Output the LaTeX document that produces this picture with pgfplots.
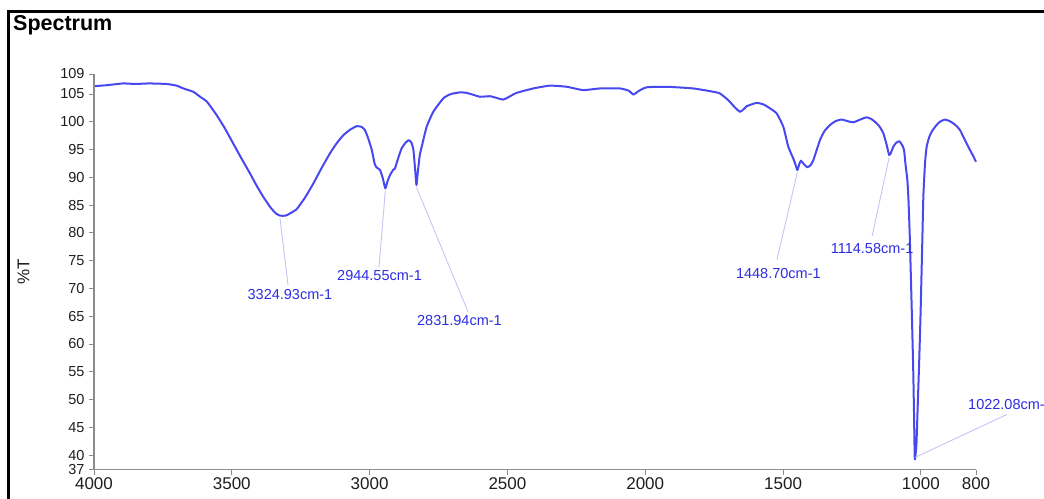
\documentclass[border=0pt]{standalone}
\usepackage{fontspec}
\setmainfont{Liberation Sans}
\usepackage{pgfplots}
\pgfplotsset{compat=1.18}
\definecolor{specblue}{RGB}{72,72,240}
\definecolor{anncol}{RGB}{45,45,225}
\definecolor{leader}{RGB}{196,196,246}
\definecolor{axgray}{RGB}{140,140,140}
\definecolor{ticktext}{RGB}{30,30,30}

\pgfplotstableread{
wn T
4000 106.4
3950 106.6
3894 106.9
3850 106.8
3800 106.9
3736 106.8
3700 106.5
3676 106.0
3640 105.4
3615 104.5
3590 103.6
3555 101.2
3525 98.8
3495 96.1
3465 93.4
3434 90.7
3410 88.5
3386 86.5
3360 84.6
3340 83.5
3325 83.1
3305 83.1
3285 83.6
3264 84.3
3235 86.3
3204 88.9
3175 91.6
3144 94.3
3120 96.1
3095 97.6
3070 98.6
3047 99.2
3030 99.1
3017 98.5
3005 97.0
2992 94.9
2982 92.5
2975 91.8
2962 91.3
2952 89.8
2943 88.0
2935 89.3
2926 90.4
2915 91.3
2908 91.6
2896 93.5
2884 95.2
2870 96.2
2858 96.7
2848 96.2
2841 94.9
2835 91.5
2830 88.6
2825 91.0
2818 94.0
2811 95.5
2793 99.1
2769 101.8
2733 104.2
2710 104.9
2696 105.1
2670 105.3
2648 105.2
2620 104.8
2600 104.5
2563 104.6
2540 104.3
2515 104.0
2490 104.6
2467 105.2
2406 106.0
2346 106.5
2285 106.3
2225 105.7
2164 106.0
2092 106.0
2060 105.6
2043 104.9
2025 105.5
1995 106.2
1922 106.3
1826 106.0
1753 105.4
1729 105.1
1699 103.9
1675 102.6
1656 101.8
1640 102.4
1632 102.8
1596 103.4
1570 103.1
1547 102.4
1523 101.5
1499 99.1
1481 95.5
1463 93.4
1455 92.3
1448 91.3
1441 92.4
1435 93.0
1425 92.4
1412 91.8
1400 92.2
1390 93.1
1366 96.7
1350 98.3
1330 99.4
1310 100.1
1288 100.4
1265 100.1
1245 99.9
1220 100.4
1197 100.8
1180 100.5
1160 99.7
1148 99.0
1136 97.9
1125 96.0
1115 94.0
1108 94.5
1100 95.5
1090 96.2
1078 96.5
1068 95.8
1061 94.9
1055 92.0
1049 89.5
1045 86.0
1040 79.0
1033 66.0
1028 56.0
1025 48.0
1022 39.3
1016 42.0
1012 48.0
1006 57.0
1001 65.6
995 78.0
991 86.5
985 92.5
979 95.5
970 97.2
961 98.2
945 99.3
931 100.0
912 100.4
895 100.1
882 99.7
870 99.2
858 98.5
843 97.0
828 95.5
812 94.0
800 92.8
}\spectrum

\begin{document}
\begin{tikzpicture}
\begin{axis}[
  at={(0pt,0pt)}, anchor=south west,
  scale only axis, width=882pt, height=395.5pt,
  xmin=800, xmax=4000, x dir=reverse,
  ymin=37.4, ymax=108.6,
  clip=false,
  axis line style={draw=none},
  tick align=outside,
  major tick length=5pt,
  every tick/.style={draw=axgray, line width=0.9pt},
  xtick pos=bottom, ytick pos=left,
  xtick={4000,3500,3000,2500,2000,1500,1000,800},
  xticklabels={4000,3500,3000,2500,2000,1500,1000,800},
  ytick={37.4,40,45,50,55,60,65,70,75,80,85,90,95,100,105,108.6},
  yticklabels={37,40,45,50,55,60,65,70,75,80,85,90,95,100,105,109},
  xticklabel style={font=\fontsize{17}{17}\selectfont, text=ticktext},
  yticklabel style={font=\fontsize{14.5}{14.5}\selectfont, text=ticktext, xshift=-1pt},
  /pgf/number format/assume math mode=true,
]
\addplot[specblue, line width=2pt, line join=round, smooth, tension=0.3] table[x=wn, y=T] {\spectrum};

\draw[axgray, line width=1.1pt] (axis cs:4000,108.6) -- (axis cs:4000,37.4) -- (axis cs:800,37.4);

\begin{scope}[every node/.style={font=\fontsize{14.5}{14.5}\selectfont, text=anncol, inner sep=0pt}]
\draw[leader, line width=0.9pt] (axis cs:3325,82.6) -- (axis cs:3296,70.6);
\node[anchor=north] at (axis cs:3289,69.9) {3324.93cm-1};
\draw[leader, line width=0.9pt] (axis cs:2943,87.6) -- (axis cs:2966,73.8);
\node[anchor=north] at (axis cs:2964,73.3) {2944.55cm-1};
\draw[leader, line width=0.9pt] (axis cs:2830,88.2) -- (axis cs:2643,65.8);
\node[anchor=north] at (axis cs:2674,65.2) {2831.94cm-1};
\draw[leader, line width=0.9pt] (axis cs:1448,90.9) -- (axis cs:1522,75.2);
\node[anchor=north] at (axis cs:1517,73.6) {1448.70cm-1};
\draw[leader, line width=0.9pt] (axis cs:1115,93.6) -- (axis cs:1177,79.4);
\node[anchor=north] at (axis cs:1177,78.1) {1114.58cm-1};
\draw[leader, line width=0.9pt] (axis cs:1020,39.6) -- (axis cs:688,47.3);
\node[anchor=west] at (axis cs:829,49.1) {1022.08cm-1};
\end{scope}
\end{axis}

\node[rotate=90, font=\fontsize{17}{17}\selectfont, text=ticktext] at (-70.5pt,197.8pt) {\%T};
\node[anchor=base west, font=\bfseries\fontsize{21.5}{21.5}\selectfont, inner sep=0pt] at (-81pt,438.8pt) {Spectrum};
\draw[black, line width=3pt, line join=miter] (-85pt,-40pt) -- (-85pt,457.5pt) -- (970pt,457.5pt);

\pgfresetboundingbox
\path (-94pt,-28.5pt) rectangle (950pt,469.5pt);
\end{tikzpicture}
\end{document}
